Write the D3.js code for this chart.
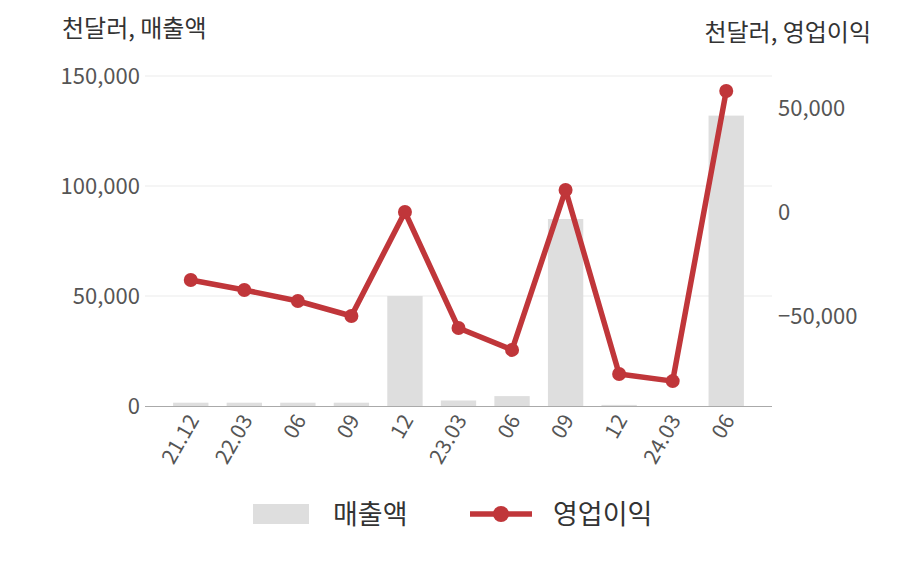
<!DOCTYPE html><html><head><meta charset="utf-8"><script src="https://cdn.jsdelivr.net/npm/d3@7"></script>
<style>body{margin:0;background:#fff}text{font-family:"Noto Sans CJK KR","Noto Sans",sans-serif}</style></head><body>
<svg id="c" width="908" height="580"></svg>
<script>
const categories=["21.12","22.03","06","09","12","23.03","06","09","12","24.03","06"];
const sales=[1500,1500,1500,1500,50000,2500,4500,85000,500,0,132000];
const profit=[-32700,-37500,-42800,-50000,0,-55800,-66300,10600,-77900,-81300,58200];
const leftTicks=[0,50000,100000,150000];
const rightTicks=[-50000,0,50000];
const svg=d3.select("#c");
const x=d3.scaleBand().domain(categories.map((d,i)=>i)).range([164,753]).paddingInner(0.34).paddingOuter(0.17);
const yL=d3.scaleLinear().domain([0,150000]).range([406,76]);
const yR=d3.scaleLinear().domain([-93270,65385]).range([406,76]);
const fmt=d3.format(",");
svg.append("g").selectAll("line").data(leftTicks.slice(1)).join("line")
 .attr("x1",145).attr("x2",772).attr("y1",d=>yL(d)).attr("y2",d=>yL(d)).attr("stroke","#ebebeb");
svg.append("g").selectAll("text").data(leftTicks).join("text").attr("x",140).attr("y",d=>yL(d)+8)
 .attr("text-anchor","end").attr("font-size",22).attr("fill","#555").text(fmt);
svg.append("g").selectAll("text").data(rightTicks).join("text").attr("x",778).attr("y",d=>yR(d)+8)
 .attr("font-size",22).attr("fill","#555").text(fmt);
svg.append("g").selectAll("rect").data(sales).join("rect").attr("x",(d,i)=>x(i)).attr("width",x.bandwidth())
 .attr("y",d=>yL(d)).attr("height",d=>406-yL(d)).attr("fill","#dedede");
svg.append("line").attr("x1",145).attr("x2",772).attr("y1",406.5).attr("y2",406.5).attr("stroke","#aaa");
svg.append("g").selectAll("text").data(categories).join("text")
 .attr("transform",(d,i)=>`translate(${x(i)+x.bandwidth()/2+9},${420}) rotate(-60)`)
 .attr("text-anchor","end").attr("font-size",21).attr("fill","#555").text(d=>d);
const line=d3.line().x((d,i)=>x(i)+x.bandwidth()/2).y(d=>yR(d));
svg.append("path").datum(profit).attr("d",line).attr("fill","none").attr("stroke","#c0363a").attr("stroke-width",5.5).attr("stroke-linejoin","round");
svg.append("g").selectAll("circle").data(profit).join("circle").attr("cx",(d,i)=>x(i)+x.bandwidth()/2).attr("cy",d=>yR(d)).attr("r",7).attr("fill","#c0363a");
svg.append("text").attr("x",62).attr("y",37).attr("font-size",24).attr("fill","#333").text("천달러, 매출액");
svg.append("text").attr("x",871).attr("y",41).attr("text-anchor","end").attr("font-size",24).attr("fill","#333").text("천달러, 영업이익");
svg.append("rect").attr("x",253).attr("y",504).attr("width",56).attr("height",20).attr("fill","#dedede");
svg.append("text").attr("x",333).attr("y",524).attr("font-size",27).attr("fill","#333").text("매출액");
svg.append("line").attr("x1",470).attr("x2",532).attr("y1",514).attr("y2",514).attr("stroke","#c0363a").attr("stroke-width",5.5);
svg.append("circle").attr("cx",501).attr("cy",514).attr("r",8).attr("fill","#c0363a");
svg.append("text").attr("x",553).attr("y",524).attr("font-size",27).attr("fill","#333").text("영업이익");
</script></body></html>
